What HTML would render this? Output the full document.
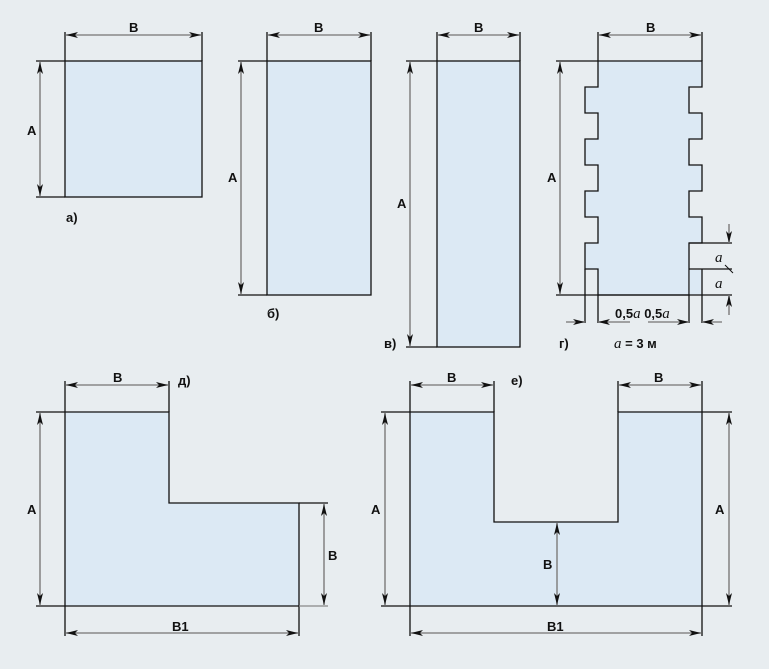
<!DOCTYPE html>
<html><head><meta charset="utf-8"><style>
html,body{margin:0;padding:0;background:#e8edf0;}
svg{display:block;}
text{font-family:"Liberation Sans",sans-serif;font-weight:bold;font-size:13px;fill:#111;}
.s{stroke:#111;stroke-width:1.3;fill:none;}
.f{fill:#dce9f4;stroke:#111;stroke-width:1.3;}
.d{stroke:#888;stroke-width:1.6;fill:none;marker-start:url(#ar);marker-end:url(#ar);}
.d1{stroke:#888;stroke-width:1.6;fill:none;marker-end:url(#ar);}
.it{font-family:"Liberation Serif",serif;font-style:italic;font-weight:normal;font-size:15px;}
</style></head><body>
<svg width="769" height="669" viewBox="0 0 769 669">
<defs>
<marker id="ar" viewBox="0 0 12 6" refX="12" refY="3" markerWidth="12" markerHeight="6" markerUnits="userSpaceOnUse" orient="auto-start-reverse">
<path d="M0,0 L12,3 L0,6 L3,3 Z" fill="#111"/></marker>
</defs>
<!-- a -->
<rect class="f" x="65" y="61" width="137" height="136"/>
<path class="s" d="M65,32V61M202,32V61M36,61H65M36,197H65"/>
<line class="d" x1="66" y1="35" x2="201" y2="35"/>
<line class="d" x1="40" y1="62" x2="40" y2="196"/>
<text x="129" y="32">В</text><text x="27" y="135">А</text><text x="66" y="222">а)</text>
<!-- б -->
<rect class="f" x="267" y="61" width="104" height="234"/>
<path class="s" d="M267,32V61M371,32V61M238,61H267M238,295H267"/>
<line class="d" x1="268" y1="35" x2="370" y2="35"/>
<line class="d" x1="241" y1="62" x2="241" y2="294"/>
<text x="314" y="32">В</text><text x="228" y="182">А</text><text x="267" y="318">б)</text>
<!-- в -->
<rect class="f" x="437" y="61" width="83" height="286"/>
<path class="s" d="M437,32V61M520,32V61M406,61H437M406,347H437"/>
<line class="d" x1="438" y1="35" x2="519" y2="35"/>
<line class="d" x1="410" y1="62" x2="410" y2="346"/>
<text x="474" y="32">В</text><text x="397" y="208">А</text><text x="384" y="348">в)</text>
<!-- г -->
<path class="f" d="M598,61H702V87H689V113H702V139H689V165H702V191H689V217H702V243H689V295H598V269H585V243H598V217H585V191H598V165H585V139H598V113H585V87H598Z"/>
<rect x="689.7" y="270" width="11.6" height="24.3" fill="#dce9f4"/>
<path class="s" d="M598,32V61M702,32V61M556,61H598M556,295H732M689,243H732M689,269H732M585,269V323M598,295V323M689,295V323M702,269V323"/>
<line class="d" x1="599" y1="35" x2="701" y2="35"/>
<line class="d" x1="560" y1="62" x2="560" y2="294"/>
<line class="d1" x1="566" y1="322" x2="585" y2="322"/>
<line class="d1" x1="630" y1="322" x2="598" y2="322"/>
<line class="d1" x1="648" y1="322" x2="689" y2="322"/>
<line class="d1" x1="722" y1="322" x2="702" y2="322"/>
<line class="d1" x1="729" y1="224" x2="729" y2="243"/>
<line class="d1" x1="729" y1="315" x2="729" y2="295"/>
<path class="s" d="M725,265L733,273" style="stroke-width:1"/>
<text x="646" y="32">В</text><text x="547" y="182">А</text>
<text x="715" y="262" class="it">a</text><text x="715" y="288" class="it">a</text>
<text x="615" y="318">0,5<tspan class="it">a</tspan> 0,5<tspan class="it">a</tspan></text>
<text x="559" y="348">г)</text>
<text x="614" y="348"><tspan class="it">a</tspan> = 3 м</text>
<!-- д -->
<path class="f" d="M65,412H169V503H299V606H65Z"/>
<path class="s" d="M65,381V412M169,381V412M36,412H65M36,606H65M299,503H328M65,606V636M299,606V636"/>
<path d="M299,606H328" stroke="#888" stroke-width="1.3"/>
<line class="d" x1="66" y1="385" x2="168" y2="385"/>
<line class="d" x1="40" y1="413" x2="40" y2="605"/>
<line class="d" x1="324" y1="504" x2="324" y2="605"/>
<line class="d" x1="66" y1="633" x2="298" y2="633"/>
<text x="113" y="382">В</text><text x="178" y="385">д)</text><text x="27" y="514">А</text>
<text x="328" y="560">В</text><text x="172" y="631">В1</text>
<!-- е -->
<path class="f" d="M410,412H494V522H618V412H702V606H410Z"/>
<path class="s" d="M410,381V412M494,381V412M618,381V412M702,381V412M381,412H410M381,606H410M702,412H732M702,606H732M410,606V636M702,606V636"/>
<line class="d" x1="411" y1="385" x2="493" y2="385"/>
<line class="d" x1="619" y1="385" x2="701" y2="385"/>
<line class="d" x1="385" y1="413" x2="385" y2="605"/>
<line class="d" x1="729" y1="413" x2="729" y2="605"/>
<line class="d" x1="557" y1="523" x2="557" y2="605"/>
<line class="d" x1="411" y1="633" x2="701" y2="633"/>
<text x="447" y="382">В</text><text x="511" y="385">е)</text><text x="654" y="382">В</text>
<text x="371" y="514">А</text><text x="715" y="514">А</text><text x="543" y="569">В</text>
<text x="547" y="631">В1</text>
</svg>
</body></html>
